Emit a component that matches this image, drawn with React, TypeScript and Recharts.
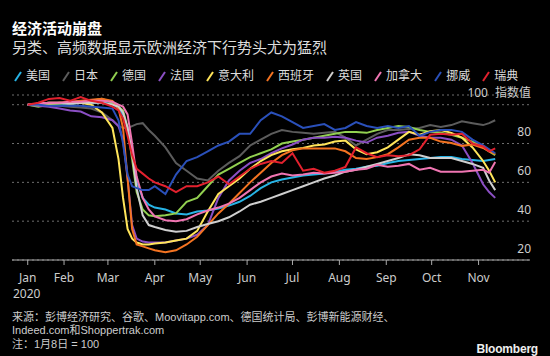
import { LineChart, Line, XAxis, YAxis, CartesianGrid } from "recharts";

// day of year (Jan 1 = 0), data starts Jan 8 = 100
const days = [7, 14, 21, 28, 35, 42, 49, 56, 63, 67, 70, 73, 76, 79, 83, 87, 91, 98, 105, 112, 119, 126, 133, 140, 147, 154, 161, 168, 175, 182, 189, 196, 203, 210, 217, 224, 231, 238, 245, 252, 259, 266, 273, 280, 287, 294, 301, 308, 312, 316];

const us = [100, 100, 100.5, 100.5, 100.5, 101, 101, 101, 100.5, 98, 95, 88, 75, 61, 52, 48.5, 47, 46, 44, 43.5, 45, 45.5, 46.5, 48, 50, 53, 57, 60, 61.5, 62.5, 63.5, 64, 64.5, 65.5, 66.5, 67, 68, 68.5, 70, 71, 71.5, 72, 72.5, 73, 73, 72, 71.5, 71, 71.5, 72];
const japan = [100, 100, 100, 99.5, 99, 98.5, 98, 96, 92, 89, 88, 88, 89, 90, 90.5, 87, 84, 78, 70, 66, 62, 61, 66, 70, 73.5, 79, 82, 85, 87, 86, 85.5, 85, 85.5, 86, 83, 79, 82, 85, 87, 87, 87.5, 88, 89.5, 88.5, 89.5, 91.5, 90.5, 89.5, 90.5, 92];
const germany = [100, 99, 100, 100.5, 101, 101, 102, 103, 101, 99, 97, 88, 72, 55, 46, 43, 42.5, 43, 44, 50, 52, 58, 64, 67, 70, 73, 75, 77, 80, 81, 82, 83, 84, 85, 86, 86, 85.5, 87, 88, 89, 88.5, 87, 86, 85.5, 84.5, 83, 81, 78, 76, 74];
const france = [100, 99.5, 99, 98, 97, 96.5, 94, 93.5, 92, 89, 82, 62, 38, 31, 29.5, 29, 29, 29, 30, 31, 33, 38, 52, 61, 66, 70, 72, 75, 77.5, 79.5, 82, 83, 83, 83.5, 83, 81.5, 80.5, 83, 84, 85.5, 86, 84, 83, 83, 82, 79, 70, 59, 55, 52];
const italy = [100, 100, 100.5, 101, 100.5, 101, 100, 96, 88, 72, 52, 36, 31, 29, 28, 28, 28.5, 29, 30, 31, 35, 45, 54, 58, 62, 67, 71, 74, 76, 77, 77.7, 79, 79.5, 81, 81.5, 77, 74.5, 75.5, 78, 82, 86, 84.5, 86.3, 87, 85.5, 83, 78, 71, 66, 60];
const spain = [100, 100.5, 101, 101, 101.5, 102, 102.5, 103, 102, 98, 88, 62, 36, 28, 27, 26, 25, 24, 25, 28, 32, 38, 44, 49, 54.5, 60, 65, 70, 74, 76.5, 77.5, 77.5, 77.5, 77.5, 76, 72.5, 72, 73, 74.5, 78, 82, 83, 83, 81, 80.3, 78.8, 79.5, 77.7, 76, 74.5];
const uk = [100, 100.5, 101, 101, 100.5, 101, 101, 101, 100, 99, 96, 88, 75, 57, 43, 38, 37, 35.5, 34.5, 35, 37, 38.5, 40, 42, 45, 48.5, 50, 52, 54, 56, 58, 60, 62, 63.5, 65.5, 66.5, 68, 69.5, 71, 72.5, 74.5, 74, 72.5, 72.5, 72.5, 71, 69.5, 67.5, 61, 56];
const canada = [100, 100.5, 101, 101, 101.5, 101.5, 102, 102, 101.5, 100, 99, 95, 80, 63, 52, 46, 42.5, 40.5, 40, 41, 43.5, 45.5, 47, 49, 52, 56, 60, 63, 64.5, 63.5, 64, 65, 64.5, 65, 65.5, 66.5, 67, 69, 68, 68.5, 69.5, 66.5, 67.5, 65.5, 65.5, 65.5, 66, 66.5, 65, 70.5];
const norway = [100, 100, 99.5, 99.5, 99.5, 99.5, 99, 98.5, 98, 92, 80, 64, 58, 57, 56, 56, 58, 54, 64, 71, 73, 76, 79, 81, 85, 85, 92, 96, 94, 91, 88, 89, 90, 87, 88, 91, 89, 88, 89, 88, 89, 84, 86, 87, 87, 86, 82, 79, 77, 75];
const sweden = [100, 101, 103, 103.5, 102, 104, 102, 101, 99, 97, 93, 84, 74, 67, 64.5, 62, 60, 58, 55, 58, 58, 60, 63, 59, 63, 67, 69.5, 71, 70, 75, 66, 67, 65, 66, 68, 78, 75, 73, 74, 73.5, 74, 77, 84.5, 85, 84.5, 85, 80, 78.5, 76, 77.5];

const monthTicks = [7, 31, 60, 91, 121, 152, 182, 213, 244, 274, 305];
const monthLabels = ["Jan", "Feb", "Mar", "Apr", "May", "Jun", "Jul", "Aug", "Sep", "Oct", "Nov"];
const valueTicks = [20, 40, 60, 80, 100];

const series = [
  { key: "us", name: "美国", color: "#27b4e6", values: us },
  { key: "japan", name: "日本", color: "#5c5c5c", values: japan },
  { key: "germany", name: "德国", color: "#92d050", values: germany },
  { key: "france", name: "法国", color: "#8b4fc4", values: france },
  { key: "italy", name: "意大利", color: "#ffe55a", values: italy },
  { key: "spain", name: "西班牙", color: "#f47321", values: spain },
  { key: "uk", name: "英国", color: "#cfcfcf", values: uk },
  { key: "canada", name: "加拿大", color: "#f075b2", values: canada },
  { key: "norway", name: "挪威", color: "#2a50ba", values: norway },
  { key: "sweden", name: "瑞典", color: "#e3212e", values: sweden },
];

const data = days.map((day, i) => {
  const row: Record<string, number> = { day };
  series.forEach((s) => {
    row[s.key] = s.values[i];
  });
  return row;
});

const FONT = '"Noto Sans", "Noto Sans CJK SC", sans-serif';
const FOOT_FONT = '"Liberation Sans", "Noto Sans CJK SC", sans-serif';

function ValueTick(props: any) {
  const { y, payload } = props;
  const v = payload.value;
  return (
    <text x={531} y={y - 7.5} textAnchor="end" fill="#cccccc" fontSize={12} fontFamily={FONT}>
      {v === 100 ? (
        <>
          <tspan>100</tspan>
          <tspan dx={7}>指数值</tspan>
        </>
      ) : (
        v
      )}
    </text>
  );
}

export default function App() {
  return (
    <div style={{ position: "relative", width: 550, height: 356, background: "#000", fontFamily: FONT, overflow: "hidden" }}>
      <style>{`body{margin:0;background:#000}`}</style>
      <div style={{ position: "absolute", left: 0, top: 0 }}>
        <LineChart width={550} height={356} data={data} margin={{ top: 95, right: 0, bottom: 66, left: 12 }}>
          <CartesianGrid vertical={false} stroke="#6e6e6e" strokeDasharray="2 3" />
          <XAxis
            dataKey="day"
            type="number"
            domain={[-3.4, 339]}
            ticks={monthTicks}
            tickFormatter={(v: number) => monthLabels[monthTicks.indexOf(v)]}
            height={30}
            stroke="#aaaaaa"
            tickSize={5}
            tickMargin={8}
            tick={{ fill: "#cccccc", fontSize: 12, fontFamily: FONT }}
            allowDataOverflow
          />
          <YAxis
            orientation="right"
            domain={[20, 105]}
            ticks={valueTicks}
            width={20}
            axisLine={false}
            tickLine={false}
            tick={ValueTick}
            allowDataOverflow
          />
          {series.map((s) => (
            <Line
              key={s.key}
              dataKey={s.key}
              type="linear"
              stroke={s.color}
              strokeWidth={2}
              dot={false}
              isAnimationActive={false}
            />
          ))}
        </LineChart>
      </div>

      <div style={{ position: "absolute", left: 12, top: 18, color: "#fff", fontSize: 15, fontWeight: 700, lineHeight: "20px" }}>
        经济活动崩盘
      </div>
      <div style={{ position: "absolute", left: 12, top: 37, color: "#dddddd", fontSize: 15, lineHeight: "20px" }}>
        另类、高频数据显示欧洲经济下行势头尤为猛烈
      </div>

      <div style={{ position: "absolute", left: 14, top: 67, display: "flex", alignItems: "center", height: 18 }}>
        {series.map((s) => (
          <div key={s.key} style={{ display: "flex", alignItems: "center", marginRight: 12 }}>
            <svg width={8} height={12} style={{ marginRight: 4 }}>
              <line x1={1} y1={11} x2={7} y2={2} stroke={s.color} strokeWidth={2} />
            </svg>
            <span style={{ color: "#dddddd", fontSize: 12, lineHeight: "16px" }}>{s.name}</span>
          </div>
        ))}
      </div>

      <div style={{ position: "absolute", left: 13, top: 286, color: "#cccccc", fontSize: 12, lineHeight: "16px" }}>2020</div>

      <div style={{ position: "absolute", left: 12, top: 311, color: "#cccccc", fontSize: 11, lineHeight: "13.3px", fontFamily: FOOT_FONT }}>
        <div>来源：彭博经济研究、谷歌、Moovitapp.com、德国统计局、彭博新能源财经、</div>
        <div>Indeed.com和Shoppertrak.com</div>
        <div>注：1月8日 = 100</div>
      </div>

      <div
        style={{
          position: "absolute",
          right: 12,
          top: 341,
          color: "#eeeeee",
          fontSize: 12,
          fontWeight: 700,
          fontFamily: '"Liberation Sans", Arial, sans-serif',
          lineHeight: "16px",
          letterSpacing: -0.2,
        }}
      >
        Bloomberg
      </div>
    </div>
  );
}
